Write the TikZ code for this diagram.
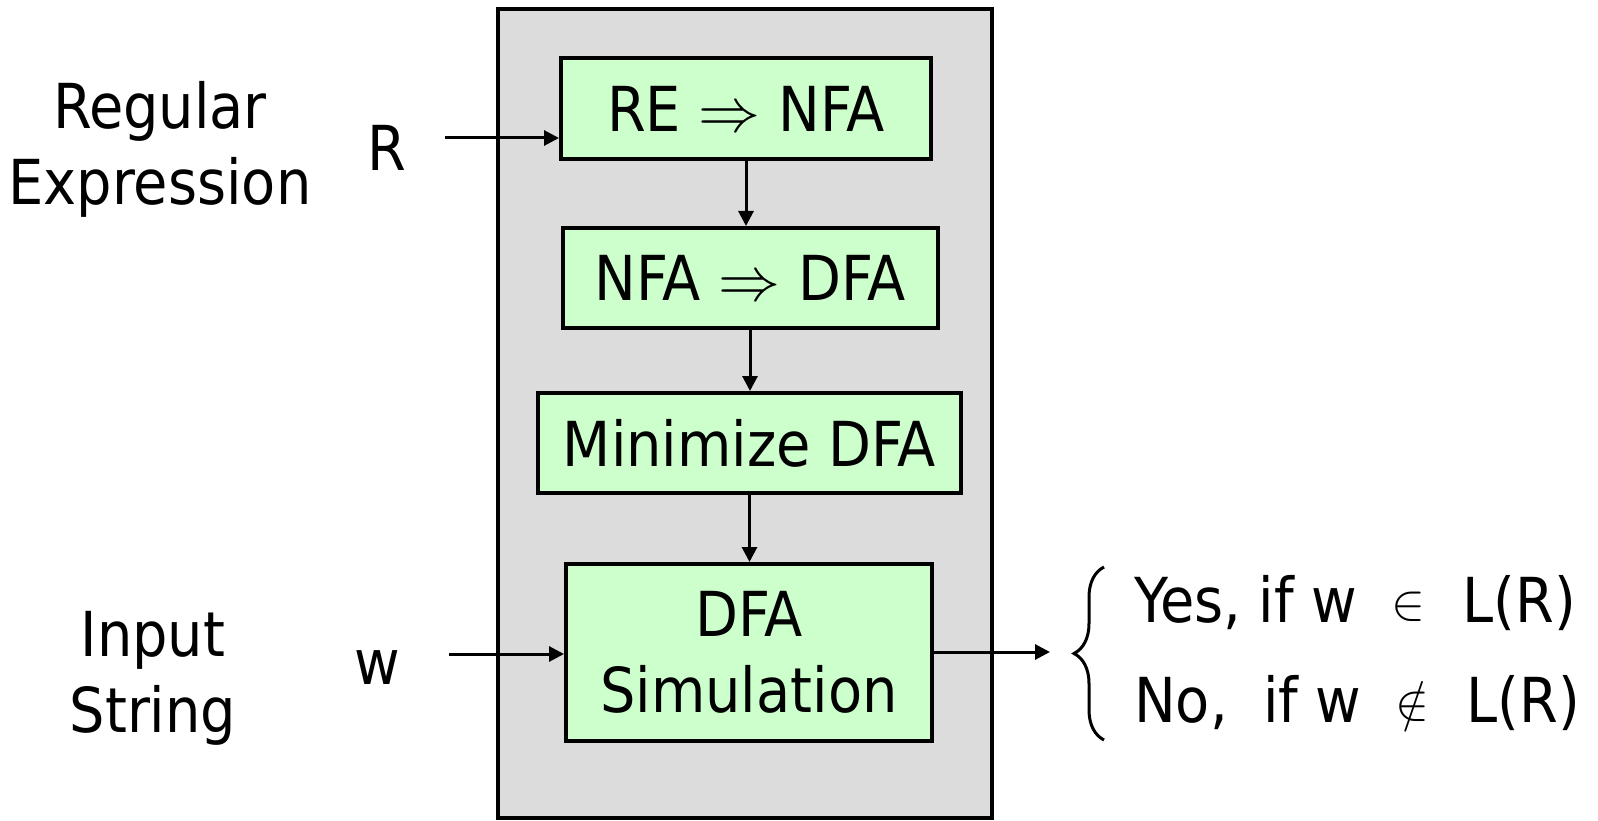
\RequirePackage{fix-cm}
\documentclass[tikz,border=0pt]{standalone}
\usepackage{graphicx}
\usepackage{fontspec}
\setmainfont{DejaVu Sans Condensed}
\usetikzlibrary{arrows.meta,decorations.pathreplacing}
\definecolor{boxgreen}{HTML}{CCFFCC}
\definecolor{panelgray}{HTML}{DCDCDC}
% relation symbols set a little smaller than the text
\newcommand{\smallrel}[1]{\raisebox{3pt}{\scalebox{0.82}{$#1$}}}
\begin{document}
\begin{tikzpicture}[x=1pt,y=-1pt,
  txt/.style={font=\fontsize{62}{76}\selectfont, inner sep=0pt, align=center},
  stage/.style={txt, draw=black, line width=4pt, fill=boxgreen},
  panel/.style={draw=black, line width=4pt, fill=panelgray, inner sep=0pt},
  arr/.style={line width=3pt, -{Triangle[length=15pt,width=15pt]}},
  bracestyle/.style={line width=3pt, decorate, decoration={brace, amplitude=30pt}}
]
\useasboundingbox (0,0) rectangle (1598,821);

% processing panel
\node[panel, minimum width=494pt, minimum height=809pt] (panel) at (744.5,413.5) {};

% pipeline stages
\node[stage, minimum width=370pt, minimum height=101pt] (re)  at (746,108.5) {RE $\Rightarrow$ NFA};
\node[stage, minimum width=375pt, minimum height=100pt] (nfa) at (750,278)   {NFA $\Rightarrow$ DFA};
\node[stage, minimum width=423pt, minimum height=100pt] (min) at (749.5,443) {Minimize DFA};
\node[stage, minimum width=366pt, minimum height=177pt] (sim) at (749,652.5) {DFA\\Simulation};

\draw[arr] (re.south)  -- (re.south  |- nfa.north);
\draw[arr] (nfa.south) -- (nfa.south |- min.north);
\draw[arr] (min.south) -- (min.south |- sim.north);

% inputs
\node[txt] (regex) at (160,149) {Regular\\Expression};
\node[txt] (rlab)  at (387,148) {R};
\node[txt] (input) at (153,678) {Input\\String};
\node[txt] (wlab)  at (377,668) {w};
\coordinate (rin) at (445,138);
\coordinate (win) at (449,654);
\draw[arr] (rin) -- (rin -| re.west);
\draw[arr] (win) -- (win -| sim.west);

% output
\coordinate (out) at (1050,652);
\draw[arr] (sim.east |- out) -- (out);
\coordinate (bb) at (1104,740);
\coordinate (bt) at (1104,567);
\draw[bracestyle] (bb) -- (bt);
\node[txt, anchor=west] (yes) at (1134,603) {Yes, if w\hspace{0.55em}\smallrel{\in}\hspace{0.6em}L(R)};
\node[txt, anchor=west] (no)  at (1134,703) {No,\ \ if w\hspace{0.55em}\smallrel{\notin}\hspace{0.6em}L(R)};
\end{tikzpicture}
\end{document}
